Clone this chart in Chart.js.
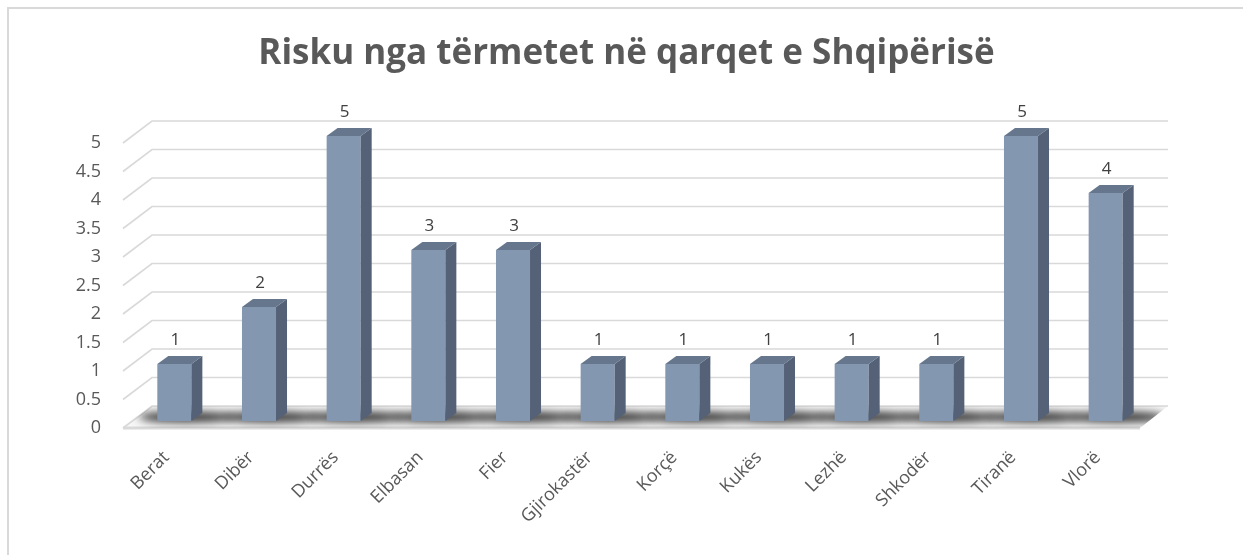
<!DOCTYPE html>
<html><head><meta charset="utf-8">
<script src="https://cdn.jsdelivr.net/npm/chart.js@4.4.1/dist/chart.umd.min.js"></script>
<style>html,body{margin:0;padding:0;background:#fff;overflow:hidden}#wrap{width:1243px;height:555px;position:relative}canvas{display:block}</style>
</head><body><div id="wrap"><canvas id="c" width="1243" height="555"></canvas></div>
<script>
const categories = ['Berat','Dibër','Durrës','Elbasan','Fier','Gjirokastër','Korçë','Kukës','Lezhë','Shkodër','Tiranë','Vlorë'];
const riskValues = [1,2,5,3,3,1,1,1,1,1,5,4];
const yTickLabels = ['0','0.5','1','1.5','2','2.5','3','3.5','4','4.5','5'];
const chartTitle = 'Risku nga tërmetet në qarqet e Shqipërisë';

const FONT = "'Open Sans', 'Noto Sans', sans-serif";
const DX = 11, DY = -8;           // bar depth offset
const GFX = -9, GFY = 7;          // front edge of wall grid relative to scale
const GBX = 20, GBY = -15;        // back wall relative to scale

const scenePlugin = {
  id: 'scene',
  beforeDraw(chart) {
    const ctx = chart.ctx;
    ctx.save();
    ctx.fillStyle = '#ffffff';
    ctx.fillRect(0, 0, chart.width, chart.height);
    ctx.fillStyle = '#d9d9d9';
    ctx.fillRect(7, 7, chart.width - 7, 2);
    ctx.fillRect(7, 7, 2, chart.height - 7);
    ctx.restore();
  },
  beforeDatasetsDraw(chart) {
    const ctx = chart.ctx, ca = chart.chartArea, ys = chart.scales.y;
    const y0 = ys.getPixelForValue(0);
    ctx.save();
    const floor = [[ca.left + GFX, y0 + GFY], [ca.right + GFX + 1, y0 + GFY], [ca.right + GBX, y0 + GBY], [ca.left + GBX, y0 + GBY]];
    ctx.beginPath();
    floor.forEach((p, i) => i ? ctx.lineTo(p[0], p[1]) : ctx.moveTo(p[0], p[1]));
    ctx.closePath();
    ctx.fillStyle = '#f7f7f7';
    ctx.fill();
    ctx.strokeStyle = '#d9d9d9';
    ctx.lineWidth = 3;
    ctx.beginPath();
    ctx.moveTo(ca.left + GFX, y0 + GFY);
    ctx.lineTo(ca.right + GFX + 1, y0 + GFY);
    ctx.stroke();
    ctx.lineWidth = 1.6;
    ys.ticks.forEach(t => {
      const y = ys.getPixelForValue(t.value);
      ctx.beginPath();
      ctx.moveTo(ca.left + GFX, y + GFY);
      ctx.lineTo(ca.left + GBX, y + GBY);
      ctx.lineTo(ca.right + GBX, y + GBY);
      ctx.stroke();
    });
    ctx.beginPath();
    floor.forEach((p, i) => i ? ctx.lineTo(p[0], p[1]) : ctx.moveTo(p[0], p[1]));
    ctx.closePath();
    ctx.clip();
    ctx.filter = 'blur(4px)';
    const meta = chart.getDatasetMeta(0);
    meta.data.forEach(bar => {
      ctx.fillStyle = 'rgba(20,20,20,0.85)';
      ctx.beginPath();
      ctx.ellipse(bar.x + 12, bar.base - 4, 48, 5.5, 0, 0, Math.PI * 2);
      ctx.fill();
    });
    ctx.filter = 'none';
    ctx.restore();
  },
  afterDatasetsDraw(chart) {
    const ctx = chart.ctx;
    const meta = chart.getDatasetMeta(0);
    ctx.save();
    meta.data.forEach((bar, i) => {
      const w = bar.width, l = bar.x - w / 2, r = bar.x + w / 2, t = bar.y, b = bar.base;
      ctx.fillStyle = '#546176';
      ctx.beginPath();
      ctx.moveTo(r, t); ctx.lineTo(r + DX, t + DY); ctx.lineTo(r + DX, b + DY); ctx.lineTo(r, b);
      ctx.closePath(); ctx.fill();
      ctx.fillStyle = '#66768c';
      ctx.beginPath();
      ctx.moveTo(l, t); ctx.lineTo(l + DX, t + DY); ctx.lineTo(r + DX, t + DY); ctx.lineTo(r, t);
      ctx.closePath(); ctx.fill();
      ctx.fillStyle = '#404040';
      ctx.font = '17px ' + FONT;
      ctx.textAlign = 'center';
      ctx.textBaseline = 'middle';
      ctx.fillText(String(riskValues[i]), bar.x + 1, t - 24);
    });
    ctx.restore();
  }
};

new Chart(document.getElementById('c'), {
  type: 'bar',
  data: {
    labels: categories,
    datasets: [{
      data: riskValues,
      backgroundColor: '#8497b0',
      borderWidth: 0,
      categoryPercentage: 1,
      barPercentage: 0.402
    }]
  },
  options: {
    responsive: false,
    animation: false,
    devicePixelRatio: 1,
    layout: { padding: { left: 10, right: 0, top: 0, bottom: 0 } },
    plugins: {
      legend: { display: false },
      tooltip: { enabled: false },
      title: {
        display: true,
        text: chartTitle,
        color: '#595959',
        font: { family: FONT, size: 35, weight: 'bold', lineHeight: 1.2 },
        padding: { top: 33, bottom: 61 }
      }
    },
    scales: {
      x: {
        grid: { display: false, drawTicks: false },
        border: { display: false },
        ticks: {
          color: '#595959',
          font: { family: FONT, size: 18 },
          minRotation: 45, maxRotation: 45,
          autoSkip: false,
          padding: 26,
          labelOffset: -8
        },
        afterFit(s) { s.height = 134; }
      },
      y: {
        min: 0, max: 5,
        grid: { display: false, drawTicks: false },
        border: { display: false },
        ticks: {
          stepSize: 0.5,
          color: '#595959',
          font: { family: FONT, size: 18 },
          padding: 31,
          labelOffset: 7,
          callback: (v, i) => yTickLabels[i]
        },
        afterFit(s) { s.width = 122; }
      },
      spacer: {
        type: 'linear',
        position: 'right',
        display: true,
        grid: { display: false, drawTicks: false },
        border: { display: false },
        ticks: { display: false },
        afterFit(s) { s.width = 95; }
      }
    }
  },
  plugins: [scenePlugin]
});
</script>
</body></html>
